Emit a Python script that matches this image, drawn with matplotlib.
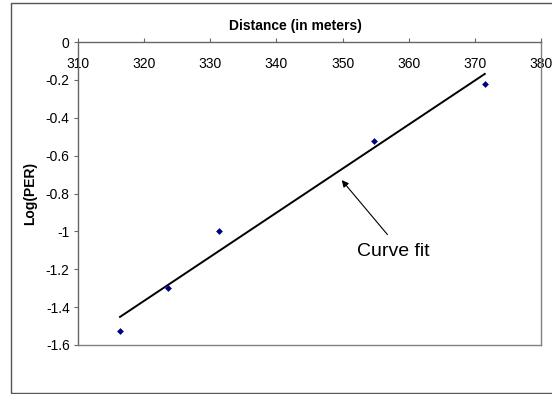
import matplotlib
matplotlib.use("Agg")
import matplotlib.pyplot as plt
import numpy as np
from matplotlib.patches import Rectangle

distance = [316.35, 323.65, 331.3, 354.8, 371.5]
log_per = [-1.524, -1.300, -0.998, -0.521, -0.220]
x_ticks = [310, 320, 330, 340, 350, 360, 370, 380]
y_ticks = [0, -0.2, -0.4, -0.6, -0.8, -1, -1.2, -1.4, -1.6]
y_tick_labels = ["0", "-0.2", "-0.4", "-0.6", "-0.8", "-1", "-1.2", "-1.4", "-1.6"]

plt.rcParams['font.family'] = ['Liberation Sans', 'DejaVu Sans']

W, H = 552, 394
fig = plt.figure(figsize=(W / 100, H / 100), dpi=100)
ax = fig.add_axes([78 / W, 1 - 345 / H, (541 - 78) / W, (345 - 42) / H])

# outer chart border (right edge lies outside the image)
fig.patches.append(Rectangle((10.5 / W, 1 - 392.5 / H), (560 - 10.5) / W, (392.5 - 2.5) / H,
                             transform=fig.transFigure, fill=False, edgecolor='#555555', lw=1.0,
                             clip_on=False))

ax.scatter(distance, log_per, marker='D', s=12, color='#000080', zorder=3, linewidths=0)

slope, intercept = np.polyfit(distance, log_per, 1)
xf = np.array([min(distance), max(distance)])
ax.plot(xf, slope * xf + intercept, color='black', lw=1.4, zorder=2)

ax.set_xlim(310, 380)
ax.set_ylim(-1.6, 0)
ax.set_xticks(x_ticks)
ax.set_yticks(y_ticks)
ax.set_yticklabels(y_tick_labels)

for s in ax.spines.values():
    s.set_color('#808080')
    s.set_linewidth(1.0)
ax.spines['left'].set_color('#666666')
ax.spines['top'].set_color('#666666')

ax.xaxis.set_ticks_position('top')
ax.tick_params(axis='x', top=True, bottom=False, labeltop=True, labelbottom=False,
               direction='out', length=3, color='#666666', labelsize=10, pad=-19)
ax.tick_params(axis='y', direction='out', length=3, color='#666666', labelsize=10, pad=3)
for lab in ax.get_xticklabels():
    lab.set_verticalalignment('center')

fig.text(295 / W, 1 - 26 / H, "Distance (in meters)", ha='center', va='center',
         fontsize=10, fontweight='bold')
fig.text(30 / W, 1 - 193 / H, "Log(PER)", ha='center', va='center', rotation=90,
         fontsize=10, fontweight='bold')

ax.annotate("", xy=(349.6, -0.718), xytext=(357.05, -1.028),
            arrowprops=dict(arrowstyle='-|>', color='black', lw=0.8, mutation_scale=10))
ax.text(357.6, -1.105, "Curve fit", ha='center', va='center', fontsize=14)

fig.savefig("out.png", dpi=100)
